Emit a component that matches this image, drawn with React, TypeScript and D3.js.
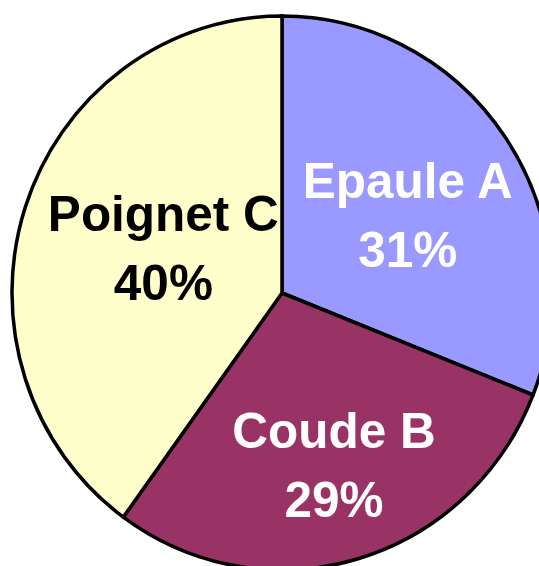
import React from 'react';
import * as d3 from 'd3';

const categories = ['Epaule A', 'Coude B', 'Poignet C'];
const shares = [31, 29, 40];
const colors = ['#9999FF', '#993366', '#FFFFCC'];
const labelColors = ['#FFFFFF', '#FFFFFF', '#000000'];

const width = 539;
const height = 566;

const App = () => {
  const cx = 282;
  const cy = 293;
  const rx = 270;
  const ry = 277;
  // where each label block sits: distance from centre and a small turn (deg)
  const labelDist = [148, 180, 127];
  const labelTurn = [2.4, -0.6, 2.9];

  const data = categories.map((name, i) => ({ name, value: shares[i] }));
  const pie = d3.pie<any>().sort(null).value(d => d.value);
  const arcs = pie(data);
  const arc = d3.arc<any>().innerRadius(0).outerRadius(rx);

  const total = d3.sum(shares);

  return (
    <svg width={width} height={height} style={{ position: 'absolute', left: 0, top: 0 }}>
      <g transform={`translate(${cx},${cy}) scale(1,${ry / rx})`}>
        {arcs.map((a, i) => (
          <path
            key={i}
            d={arc(a) || ''}
            fill={colors[i]}
            stroke="#000"
            strokeWidth={3.5}
            strokeLinejoin="miter"
          />
        ))}
      </g>
      <g transform={`translate(${cx},${cy})`}>
        {arcs.map((a, i) => {
          const mid = (a.startAngle + a.endAngle) / 2 + (labelTurn[i] * Math.PI) / 180;
          const x = labelDist[i] * Math.sin(mid);
          const y = -labelDist[i] * Math.cos(mid);
          const pct = Math.round((a.data.value / total) * 100);
          return (
            <text
              key={i}
              x={x}
              y={y}
              textAnchor="middle"
              fontFamily="'Liberation Sans', Arial, sans-serif"
              fontWeight="bold"
              fontSize={49.5}
              fill={labelColors[i]}
            >
              <tspan x={x} dy={-17}>{a.data.name}</tspan>
              <tspan x={x} dy={69}>{pct}%</tspan>
            </text>
          );
        })}
      </g>
    </svg>
  );
};

export default App;
